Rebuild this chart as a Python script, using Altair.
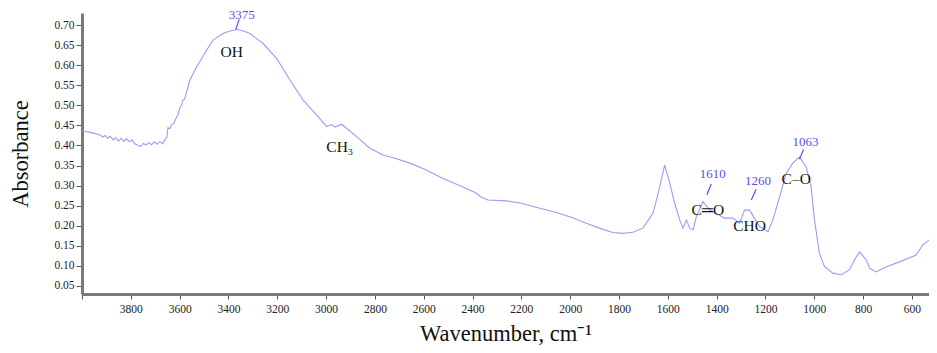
import altair as alt
import pandas as pd

# FTIR spectrum
wavenumber = [4000, 3960, 3926, 3915, 3905, 3895, 3885, 3872, 3862, 3850, 3840, 3828, 3818,
              3806, 3795, 3784, 3770, 3760, 3748, 3738, 3726, 3715, 3703, 3692, 3681, 3670,
              3660, 3652, 3648, 3640, 3632, 3624, 3615, 3607, 3599, 3592, 3587, 3580, 3574,
              3566, 3558, 3530, 3489, 3462, 3422, 3394, 3365, 3341, 3312, 3258, 3203, 3148,
              3094, 3039, 2998, 2978, 2964, 2937, 2916, 2875, 2821, 2766, 2718, 2657, 2596,
              2521, 2480, 2430, 2384, 2364, 2337, 2261, 2200, 2152, 2057, 1990, 1934, 1866,
              1825, 1784, 1743, 1702, 1661, 1641, 1613, 1592, 1572, 1551, 1538, 1524, 1510,
              1496, 1483, 1456, 1429, 1402, 1368, 1334, 1306, 1286, 1265, 1245, 1224, 1190,
              1170, 1142, 1115, 1088, 1061, 1033, 1013, 999, 979, 958, 924, 890, 856, 835,
              815, 787, 773, 747, 706, 651, 583, 556, 528, 501]
absorbance = [0.436, 0.432, 0.426, 0.421, 0.425, 0.418, 0.423, 0.414, 0.420, 0.411, 0.418, 0.410, 0.417,
              0.409, 0.414, 0.404, 0.400, 0.398, 0.405, 0.401, 0.407, 0.402, 0.409, 0.403, 0.410, 0.404,
              0.414, 0.421, 0.444, 0.442, 0.452, 0.455, 0.468, 0.476, 0.494, 0.500, 0.513, 0.515, 0.528,
              0.545, 0.563, 0.596, 0.638, 0.663, 0.679, 0.685, 0.689, 0.686, 0.679, 0.654, 0.617, 0.563,
              0.513, 0.476, 0.447, 0.452, 0.446, 0.453, 0.443, 0.422, 0.393, 0.376, 0.368, 0.356, 0.341,
              0.318, 0.307, 0.294, 0.281, 0.271, 0.264, 0.262, 0.256, 0.248, 0.233, 0.220, 0.206, 0.191,
              0.183, 0.181, 0.184, 0.194, 0.231, 0.277, 0.351, 0.306, 0.256, 0.214, 0.194, 0.214, 0.194,
              0.190, 0.223, 0.260, 0.239, 0.231, 0.219, 0.219, 0.206, 0.239, 0.239, 0.219, 0.198, 0.185,
              0.214, 0.272, 0.331, 0.356, 0.371, 0.347, 0.297, 0.214, 0.131, 0.098, 0.082, 0.078, 0.090, 0.115,
              0.135, 0.115, 0.094, 0.085, 0.097, 0.110, 0.127, 0.152, 0.165, 0.206]

# peak labels (blue) with leader lines
peak_text = ["3375", "1610", "1260", "1063"]
peak_label_x = [3346, 1416, 1231, 1036]
peak_label_y = [0.726, 0.329, 0.312, 0.409]
lead_x1 = [3356, 1422, 1238, 1044]
lead_y1 = [0.714, 0.304, 0.291, 0.390]
lead_x2 = [3370, 1440, 1258, 1061]
lead_y2 = [0.689, 0.277, 0.264, 0.366]

# group labels (black)
group_text = ["OH", "CH\u2083", "C\u2550O", "CHO", "C\u2013O"]
group_x = [3387, 2944, 1436, 1265, 1074]
group_y = [0.634, 0.397, 0.239, 0.199, 0.316]

x_ticks = list(range(4000, 599, -200))
y_ticks = [0.05, 0.10, 0.15, 0.20, 0.25, 0.30, 0.35, 0.40, 0.45, 0.50, 0.55, 0.60, 0.65, 0.70]

spec = pd.DataFrame({"wn": wavenumber, "a": absorbance})
peaks = pd.DataFrame({"t": peak_text, "x": peak_label_x, "y": peak_label_y,
                      "x1": lead_x1, "y1": lead_y1, "x2": lead_x2, "y2": lead_y2})
groups = pd.DataFrame({"t": group_text, "x": group_x, "y": group_y})

SERIF = "Liberation Serif"
xscale = alt.Scale(domain=[4000, 530], nice=False, zero=False)
yscale = alt.Scale(domain=[0.03, 0.73], nice=False, zero=False)

xaxis = alt.Axis(values=x_ticks, labelExpr="datum.value == 4000 ? '' : datum.label",
                 title="Wavenumber, cm\u207b\u00b9", grid=False, format="d", labelOverlap=False,
                 labelFont=SERIF, labelFontSize=11.5, labelColor="#222",
                 titleFont=SERIF, titleFontSize=22.5, titleFontWeight="normal", titleColor="#111",
                 domainColor="#7a7a7a", domainWidth=3, tickColor="#555", tickSize=5,
                 labelPadding=4, titlePadding=8)
yaxis = alt.Axis(values=y_ticks, format=".2f", title="Absorbance", grid=False,
                 labelOverlap=False, labelBound=False,
                 labelFont=SERIF, labelFontSize=11.5, labelColor="#222",
                 titleFont=SERIF, titleFontSize=22.5, titleFontWeight="normal", titleColor="#111",
                 domainColor="#7a7a7a", domainWidth=3, tickColor="#555", tickSize=6,
                 labelPadding=2, titlePadding=21)

line = alt.Chart(spec).mark_line(color="#9c9cf2", strokeWidth=1.1, clip=True).encode(
    x=alt.X("wn:Q", scale=xscale, axis=xaxis),
    y=alt.Y("a:Q", scale=yscale, axis=yaxis),
    order=alt.Order("wn:Q", sort="descending"),
)

leaders = alt.Chart(peaks).mark_rule(color="#5b4fe6", strokeWidth=1.2).encode(
    x=alt.X("x1:Q", scale=xscale, axis=xaxis), y=alt.Y("y1:Q", scale=yscale, axis=yaxis),
    x2="x2:Q", y2="y2:Q",
)

peak_labels = alt.Chart(peaks).mark_text(font=SERIF, fontSize=13, color="#5b4fe6").encode(
    x=alt.X("x:Q", scale=xscale, axis=xaxis), y=alt.Y("y:Q", scale=yscale, axis=yaxis), text="t:N",
)

group_labels = alt.Chart(groups).mark_text(font=SERIF, fontSize=15.5, color="#111").encode(
    x=alt.X("x:Q", scale=xscale, axis=xaxis), y=alt.Y("y:Q", scale=yscale, axis=yaxis), text="t:N",
)

chart = alt.layer(line, leaders, peak_labels, group_labels).properties(
    width=847, height=281,
    autosize=alt.AutoSizeParams(type="none"),
    padding={"left": 74, "top": 5, "right": 0, "bottom": 57},
    background="white",
).configure_view(stroke=None)

chart.save("out.html", embed_options={"renderer": "svg", "actions": False})
